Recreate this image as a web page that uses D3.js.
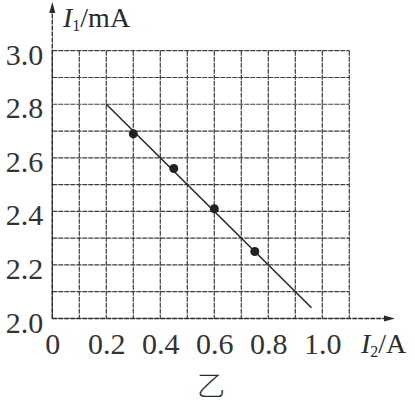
<!DOCTYPE html>
<html><head><meta charset="utf-8">
<script src="https://cdn.jsdelivr.net/npm/d3@7"></script>
<style>html,body{margin:0;padding:0;background:#fff;}</style>
</head><body>
<svg id="chart" width="415" height="404"></svg>
<script>
// Data
const xTickValues = [0, 0.2, 0.4, 0.6, 0.8, 1.0];
const yTickValues = [2.0, 2.2, 2.4, 2.6, 2.8, 3.0];
const xGridValues = [0, 0.1, 0.2, 0.3, 0.4, 0.5, 0.6, 0.7, 0.8, 0.9, 1.0, 1.1];
const yGridValues = [2.0, 2.1, 2.2, 2.3, 2.4, 2.5, 2.6, 2.7, 2.8, 2.9, 3.0];
const pointsI2 = [0.30, 0.45, 0.60, 0.75];
const pointsI1 = [2.69, 2.56, 2.41, 2.25];
const fitI2 = [0.2, 0.96];
const fitI1 = [2.8, 2.04];

const svg = d3.select("#chart");
const x = d3.scaleLinear().domain([0, 1.1]).range([52.3, 349.3]);
const y = d3.scaleLinear().domain([2.0, 3.0]).range([318.5, 50.7]);
const ink = "#2a2a2a";
const serif = "'Liberation Serif','Times New Roman',serif";

// grid
const grid = svg.append("g").attr("stroke", "#3c3c3c").attr("stroke-width", 1.2).attr("stroke-dasharray", "5,1");
grid.selectAll("line.v").data(xGridValues).join("line").attr("class", "v")
  .attr("x1", d => x(d)).attr("x2", d => x(d)).attr("y1", y(3.0)).attr("y2", y(2.0));
grid.selectAll("line.h").data(yGridValues).join("line").attr("class", "h")
  .attr("x1", x(0)).attr("x2", x(1.1)).attr("y1", d => y(d)).attr("y2", d => y(d));

// axes with arrows
const axes = svg.append("g").attr("stroke", ink).attr("stroke-width", 1.3).attr("stroke-dasharray", "5,1");
axes.append("line").attr("x1", x(0)).attr("x2", x(0)).attr("y1", y(2.0)).attr("y2", 8);
axes.append("line").attr("x1", x(0)).attr("x2", 388).attr("y1", y(2.0)).attr("y2", y(2.0));
svg.append("path").attr("fill", ink)
  .attr("d", `M${x(0)},2 L${x(0)-3},13 L${x(0)+3},13 Z`);
svg.append("path").attr("fill", ink)
  .attr("d", `M395,${y(2.0)} L384,${y(2.0)-3} L384,${y(2.0)+3} Z`);

// tick labels via d3 axes
const xAxis = d3.axisBottom(x).tickValues(xTickValues).tickSize(0)
  .tickFormat(d => d === 0 ? "0" : d3.format(".1f")(d));
const gx = svg.append("g").attr("transform", `translate(0,${y(2.0)})`).call(xAxis)
  .attr("font-family", null).attr("font-size", null);
gx.select(".domain").remove();
gx.selectAll("text").style("font-family", serif).style("font-size", "30px").attr("fill", "#333")
  .attr("dy", null).attr("y", 35);

const yAxis = d3.axisLeft(y).tickValues(yTickValues).tickSize(0).tickFormat(d3.format(".1f"));
const gy = svg.append("g").attr("transform", `translate(${x(0)},0)`).call(yAxis)
  .attr("font-family", null).attr("font-size", null);
gy.select(".domain").remove();
gy.selectAll("text").style("font-family", serif).style("font-size", "30px").attr("fill", "#333")
  .attr("x", -9).attr("dy", "0.45em");

// axis titles
const t1 = svg.append("text").attr("x", 63).attr("y", 27).style("font-family", serif).style("font-size", "28px").attr("fill", ink);
t1.append("tspan").attr("font-style", "italic").text("I");
t1.append("tspan").style("font-size", "16px").attr("dy", 4).text("1");
t1.append("tspan").attr("dy", -4).text("/mA");

const t2 = svg.append("text").attr("x", 361).attr("y", 353).style("font-family", serif).style("font-size", "28px").attr("fill", ink);
t2.append("tspan").attr("font-style", "italic").text("I");
t2.append("tspan").style("font-size", "16px").attr("dy", 4).text("2");
t2.append("tspan").attr("dy", -4).text("/A");

svg.append("text").attr("x", 211).attr("y", 396).attr("text-anchor", "middle")
  .style("font-family", "'Noto Sans CJK SC',sans-serif").attr("font-weight", 300)
  .style("font-size", "28px").attr("fill", ink).text("乙");

// fitted line
const line = d3.line().x(d => x(d[0])).y(d => y(d[1]));
svg.append("path").datum(fitI2.map((v, i) => [v, fitI1[i]]))
  .attr("d", line).attr("fill", "none").attr("stroke", ink).attr("stroke-width", 1.6);

// data points
svg.selectAll("circle.pt").data(pointsI2.map((v, i) => [v, pointsI1[i]])).join("circle")
  .attr("class", "pt").attr("cx", d => x(d[0])).attr("cy", d => y(d[1])).attr("r", 4.5)
  .attr("fill", "#222");
</script>
</body></html>
